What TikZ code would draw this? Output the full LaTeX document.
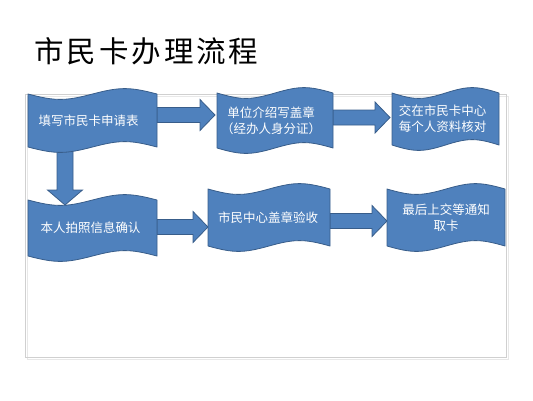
\documentclass[tikz,border=0pt]{standalone}
\usepackage{fontspec}
\newfontfamily\cjk{Noto Sans CJK SC}
\newfontfamily\cjktitle[LetterSpace=10]{Noto Sans CJK SC}
\usetikzlibrary{calc}
\definecolor{boxblue}{RGB}{79,129,189}
\definecolor{boxedge}{RGB}{56,93,138}
\definecolor{framegray}{RGB}{208,208,208}
\definecolor{frameshadow}{RGB}{232,232,232}
\pgfdeclarelayer{bg}
\pgfsetlayers{bg,main}
\tikzset{
  flagshape/.style={fill=boxblue, draw=boxedge, line width=0.8pt, line join=round},
  blockarr/.style={fill=boxblue, draw=boxedge, line width=0.8pt, line join=miter},
  boxarea/.style={inner sep=0pt, outer sep=0pt},
  boxtext/.style={inner sep=0pt, text=white, font=\cjk\fontsize{12.5}{16}\selectfont, align=center},
  titletext/.style={inner sep=0pt, anchor=west, font=\cjktitle\fontsize{29.5}{32}\selectfont},
}
% name, x1, x2, ytop, ybottom, text x-offset, text
\newcommand\flagbox[7]{%
  \pgfmathsetmacro\fw{#3-#2}%
  \pgfmathsetmacro\fh{#5-#4}%
  \pgfmathsetmacro\fm{(#2+#3)/2}%
  \pgfmathsetmacro\fa{7.2}%
  \path[flagshape] (#2,-#4)
    .. controls ({#2+0.212*\fw},{-#4-\fa}) and ({#2+0.288*\fw},{-#4-\fa}) .. (\fm,-#4)
    .. controls ({#2+0.712*\fw},{-#4+\fa}) and ({#2+0.788*\fw},{-#4+\fa}) .. (#3,-#4)
    -- (#3,-#5)
    .. controls ({#3-0.212*\fw},{-#5+\fa}) and ({#3-0.288*\fw},{-#5+\fa}) .. (\fm,-#5)
    .. controls ({\fm-0.212*\fw},{-#5-\fa}) and ({\fm-0.288*\fw},{-#5-\fa}) .. (#2,-#5)
    -- cycle;
  \node[boxarea, minimum width=\fw pt, minimum height=\fh pt] (#1) at (\fm,{-(#4+#5)/2}) {};
  \node[boxtext] (#1-t) at ($(#1.center)+(#6,0)$) {#7};
}
% from, to, y (px), tip offset
\newcommand\harrow[4]{%
  \path[blockarr] let \p1=(#1.east), \p2=(#2.west) in
    (\x1,{-#3+7.5}) -- ({\x2+(#4)-15},{-#3+7.5}) -- ({\x2+(#4)-15},{-#3+15.5})
    -- ({\x2+(#4)},{-#3}) -- ({\x2+(#4)-15},{-#3-15.5}) -- ({\x2+(#4)-15},{-#3-7.5})
    -- (\x1,{-#3-7.5}) -- cycle;
}
% from, to, x (px), tip offset below to.north
\newcommand\varrow[4]{%
  \path[blockarr] let \p1=(#1.south), \p2=(#2.north) in
    ({#3-8},\y1) -- ({#3-8},{\y2-(#4)+15}) -- ({#3-17.5},{\y2-(#4)+15})
    -- (#3,{\y2-(#4)}) -- ({#3+17.5},{\y2-(#4)+15}) -- ({#3+8},{\y2-(#4)+15})
    -- ({#3+8},\y1) -- cycle;
}
\begin{document}
\begin{tikzpicture}[x=1pt,y=1pt]
\useasboundingbox (0,0) rectangle (533,-400);
\node[titletext] (title) at (34,-51) {市民卡办理流程};

\flagbox{b1}{28}{157}{94}{147}{-4}{填写市民卡申请表}
\flagbox{b2}{217}{333}{93}{148}{-4}{单位介绍写盖章\\（经办人身分证）}
\flagbox{b3}{392}{499}{93}{145}{-3}{交在市民卡中心\\每个人资料核对}
\flagbox{b4}{28}{157}{200}{256}{-2}{本人拍照信息确认}
\flagbox{b5}{208}{330}{189}{246}{-1}{市民中心盖章验收}
\flagbox{b6}{387}{505}{189}{246}{0}{最后上交等通知\\取卡}

\begin{pgfonlayer}{bg}
  \draw[frameshadow, line width=1pt] (27,-96) rectangle (508,-359);
  \draw[framegray, line width=0.8pt] (25,-94) rectangle (506,-357);
  \harrow{b1}{b2}{115}{-2}
  \harrow{b2}{b3}{117.5}{-2}
  \harrow{b4}{b5}{227}{0}
  \harrow{b5}{b6}{221}{0}
  \varrow{b1}{b4}{65}{5}
\end{pgfonlayer}
\end{tikzpicture}
\end{document}
